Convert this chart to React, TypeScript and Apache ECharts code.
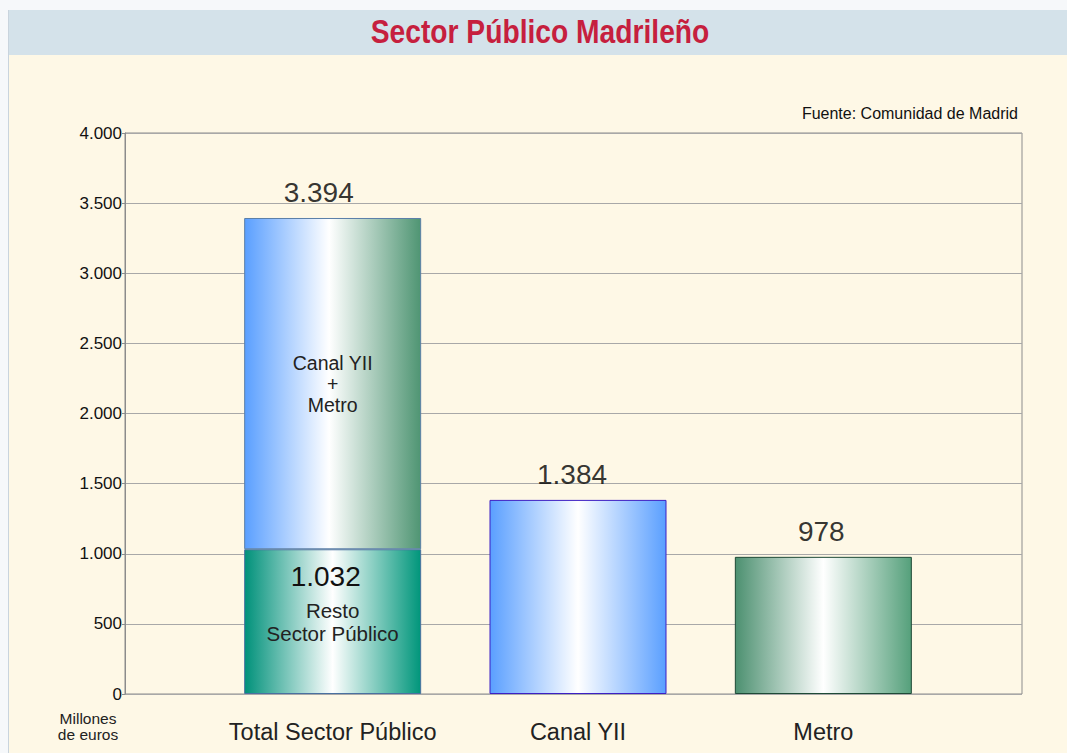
import React, { useEffect, useRef } from "react";
import * as echarts from "echarts";

const categories = ["Total Sector Público", "Canal YII", "Metro"];
const totals = [3394, 1384, 978];
const restoSector = [1032, null, null];
const yMin = 0;
const yMax = 4000;
const yInterval = 500;
const titleText = "Sector Público Madrileño";
const sourceText = "Fuente: Comunidad de Madrid";
const unitText = "Millones\nde euros";

const fmt = (v: number) => {
  const s = Math.round(v).toString();
  return s.replace(/\B(?=(\d{3})+(?!\d))/g, ".");
};

const grad = (stops: [number, string][]) => ({
  type: "linear",
  x: 0,
  y: 0,
  x2: 1,
  y2: 0,
  colorStops: stops.map(([offset, color]) => ({ offset, color })),
});

const blueBlue = grad([[0, "#5a9fff"], [0.5, "#ffffff"], [1, "#5a9fff"]]);
const greenGreen = grad([[0, "#4c9070"], [0.5, "#ffffff"], [1, "#55a07b"]]);
const blueGreen = grad([[0, "#5a9fff"], [0.48, "#ffffff"], [1, "#4f9573"]]);
const tealTeal = grad([[0, "#00917a"], [0.5, "#ffffff"], [1, "#00967b"]]);

export default function App() {
  const ref = useRef<HTMLDivElement>(null);
  useEffect(() => {
    if (!ref.current) return;
    const chart = echarts.init(ref.current, undefined, { renderer: "svg" });
    const upper = totals.map((t, i) => t - (restoSector[i] || 0));
    const upperStyles = [
      { color: blueGreen, borderColor: "#5b7fa8", borderWidth: 1 },
      { color: blueBlue, borderColor: "#3c1fc4", borderWidth: 1 },
      { color: greenGreen, borderColor: "#1e4a36", borderWidth: 1 },
    ];
    const totalLabelOffsets = [[-14, 0], [-6, 0], [-2, 0]];
    const font = "Liberation Sans, Arial, sans-serif";
    chart.setOption({
      animation: false,
      textStyle: { fontFamily: font },
      graphic: [
        { type: "rect", silent: true, z: -10, shape: { x: 8, y: 10, width: 1059, height: 45 }, style: { fill: "#d4e2ea" } },
        { type: "rect", silent: true, z: -10, shape: { x: 8, y: 55, width: 1059, height: 698 }, style: { fill: "#fef8e6" } },
        { type: "line", silent: true, z: -9, shape: { x1: 8.5, y1: 10, x2: 8.5, y2: 753 }, style: { stroke: "#c9d4dd", lineWidth: 1 } },
        {
          type: "text",
          x: 540,
          y: 32,
          scaleX: 0.83,
          style: {
            text: titleText,
            fontFamily: font,
            fontWeight: "bold",
            fontSize: 34,
            fill: "#c61f3e",
            align: "center",
            verticalAlign: "middle",
          },
        },
        {
          type: "text",
          x: 1018,
          y: 113,
          style: { text: sourceText, fontFamily: font, fontSize: 16, fill: "#111", align: "right", verticalAlign: "middle" },
        },
        {
          type: "text",
          x: 88,
          y: 726,
          style: { text: unitText, fontFamily: font, fontSize: 15.5, lineHeight: 16, fill: "#222", align: "center", verticalAlign: "middle" },
        },
      ],
      grid: [
        { left: 125, right: 45, top: 133, bottom: 59, show: true, borderColor: "#8c8c8c", borderWidth: 1, backgroundColor: "transparent" },
        { left: 210, width: 736, top: 133, bottom: 59 },
      ],
      xAxis: [
        { gridIndex: 0, type: "value", show: false, min: 0, max: 1 },
        {
          gridIndex: 1,
          type: "category",
          data: categories,
          axisLine: { show: false },
          axisTick: { show: false },
          axisLabel: { interval: 0, fontSize: 23.5, color: "#222", margin: 26, fontFamily: font },
        },
      ],
      yAxis: [
        {
          gridIndex: 0,
          type: "value",
          min: yMin,
          max: yMax,
          interval: yInterval,
          axisLine: { show: true, lineStyle: { color: "#8c8c8c" } },
          axisTick: { show: true, length: 3, lineStyle: { color: "#8c8c8c" } },
          axisLabel: { fontSize: 17, color: "#111", margin: 3, formatter: (v: number) => fmt(v), fontFamily: font },
          splitLine: { show: true, lineStyle: { color: "#a8a8a8", width: 1 } },
        },
        { gridIndex: 1, type: "value", min: yMin, max: yMax, show: false, splitLine: { show: false } },
      ],
      series: [
        {
          type: "bar",
          name: "Resto Sector Público",
          xAxisIndex: 1,
          yAxisIndex: 1,
          stack: "total",
          barWidth: 177,
          data: restoSector.map((v) =>
            v == null
              ? "-"
              : {
                  value: v,
                  itemStyle: { color: tealTeal, borderColor: "#4a70a0", borderWidth: 1 },
                }
          ),
          label: {
            show: true,
            position: "insideTop",
            distance: 5,
            formatter: (p: any) => `{a|${fmt(p.value)}}\n{b|Resto}\n{b|Sector Público}`,
            rich: {
              a: { fontSize: 28, color: "#111", lineHeight: 45, padding: [0, 14, 0, 0], fontFamily: font },
              b: { fontSize: 20.5, color: "#222", lineHeight: 23, fontFamily: font },
            },
          },
        },
        {
          type: "bar",
          name: "Canal YII + Metro",
          xAxisIndex: 1,
          yAxisIndex: 1,
          stack: "total",
          barWidth: 177,
          data: upper.map((v, i) => ({
            value: v,
            itemStyle: upperStyles[i],
            label:
              i === 0
                ? {
                    show: true,
                    position: "inside",
                    formatter: "Canal YII\n+\nMetro",
                    fontSize: 19.5,
                    lineHeight: 21,
                    color: "#222",
                    fontFamily: font,
                  }
                : { show: false },
          })),
        },
        {
          type: "scatter",
          name: "Total",
          xAxisIndex: 1,
          yAxisIndex: 1,
          symbol: "circle",
          symbolSize: 1,
          itemStyle: { color: "rgba(0,0,0,0)" },
          data: totals.map((v, i) => ({ value: v, label: { offset: totalLabelOffsets[i] } })),
          label: {
            show: true,
            position: "top",
            distance: 11,
            formatter: (p: any) => fmt(p.value),
            fontSize: 28,
            color: "#000",
            fontFamily: font,
          },
        },
      ],
    });
    return () => chart.dispose();
  }, []);
  return (
    <div
      ref={ref}
      style={{ position: "fixed", left: 0, top: 0, width: 1067, height: 753, background: "#f6f8fa" }}
    />
  );
}
